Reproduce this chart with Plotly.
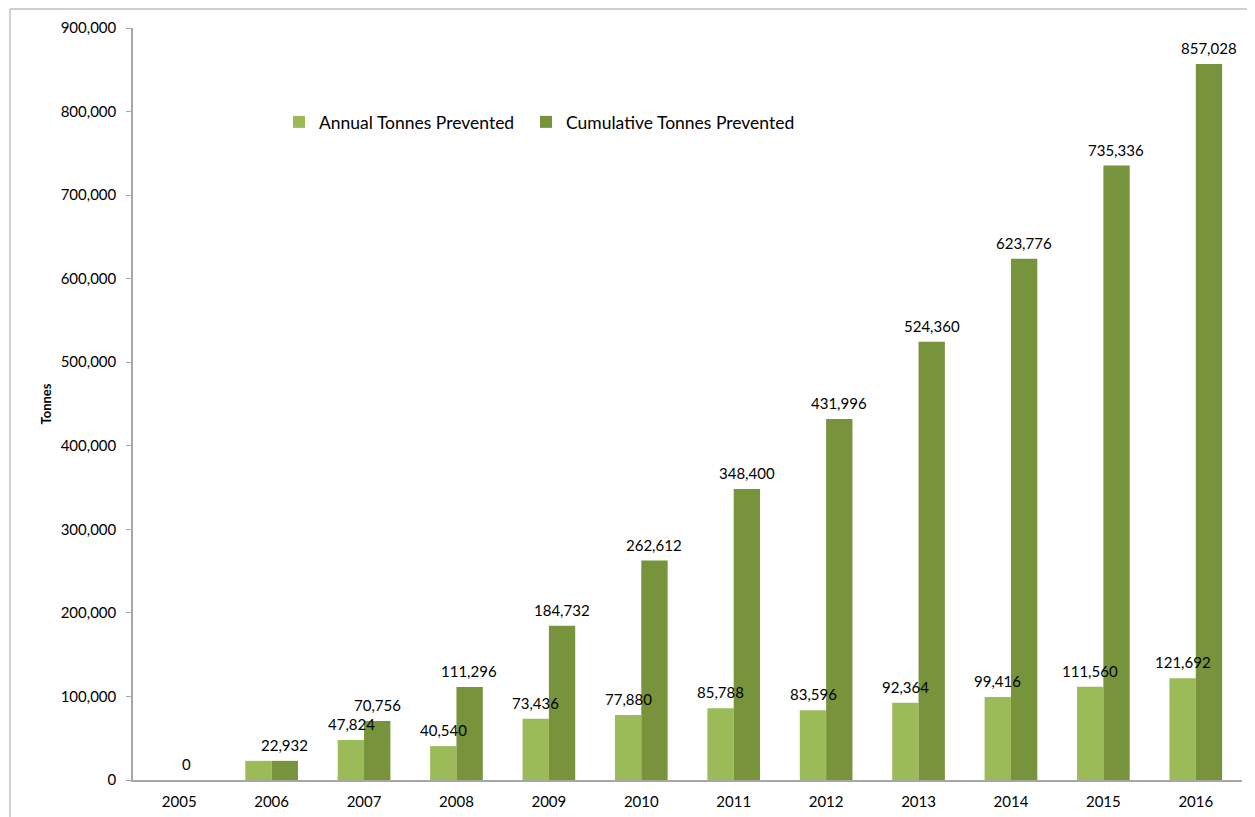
import plotly.graph_objects as go

years = ["2005", "2006", "2007", "2008", "2009", "2010", "2011", "2012", "2013", "2014", "2015", "2016"]
annual = [0, 22932, 47824, 40540, 73436, 77880, 85788, 83596, 92364, 99416, 111560, 121692]
cumulative = [0, 22932, 70756, 111296, 184732, 262612, 348400, 431996, 524360, 623776, 735336, 857028]
ytick_vals = [0, 100000, 200000, 300000, 400000, 500000, 600000, 700000, 800000, 900000]

FONT = "Lato, 'Open Sans', sans-serif"
C_ANNUAL = "#9BBB59"
C_CUM = "#77933C"

# page offset (browser body margin of 8px)
OFF = 8
W, H = 1255 - OFF, 817 - OFF
L, R, T, B = 133 - OFF, 13, 28 - OFF, 37
pw, ph = W - L - R, H - T - B


def px_x(x):
    return (x - OFF - L) / pw


def px_y(y):
    return (H - B - (y - OFF)) / ph


def font(size, weight=400):
    return dict(size=size, family=FONT, color="#000000", weight=weight)


fig = go.Figure()
fig.add_trace(go.Bar(
    x=years, y=annual, name="Annual Tonnes Prevented",
    marker=dict(color=C_ANNUAL, line=dict(width=0)), legend="legend",
))
fig.add_trace(go.Bar(
    x=years, y=cumulative, name="Cumulative Tonnes Prevented",
    marker=dict(color=C_CUM, line=dict(width=0)), legend="legend2",
))

BAR_OFFSET = 13
annotations = []
for i, (a, c) in enumerate(zip(annual, cumulative)):
    if a != c:
        annotations.append(dict(
            x=i, y=a, xref="x", yref="y", text=f"{a:,}", showarrow=False,
            xshift=-BAR_OFFSET, yshift=16, yanchor="middle", font=font(15),
        ))
    annotations.append(dict(
        x=i, y=c, xref="x", yref="y", text=f"{c:,}", showarrow=False,
        xshift=BAR_OFFSET if c else 7, yshift=16, yanchor="middle", font=font(15),
    ))

legend_common = dict(
    orientation="h", yanchor="middle", xanchor="left",
    font=font(17.5), bgcolor="rgba(0,0,0,0)",
)

fig.update_layout(
    width=W, height=H,
    margin=dict(l=L, r=R, t=T, b=B, autoexpand=False),
    paper_bgcolor="white", plot_bgcolor="white",
    barmode="group", bargap=0.43, bargroupgap=0,
    font=font(15),
    showlegend=True,
    legend=dict(x=px_x(279), y=px_y(122), **legend_common),
    legend2=dict(x=px_x(526), y=px_y(122), **legend_common),
    annotations=annotations,
    shapes=[
        dict(type="line", xref="paper", yref="paper",
             x0=px_x(10), x1=px_x(1270), y0=px_y(9), y1=px_y(9),
             line=dict(color="#BFBFBF", width=1.5)),
        dict(type="line", xref="paper", yref="paper",
             x0=px_x(10), x1=px_x(10), y0=px_y(9), y1=px_y(840),
             line=dict(color="#BFBFBF", width=1.5)),
    ],
)

fig.update_xaxes(
    type="category", range=[-0.5, len(years) - 0.5], automargin=False,
    showgrid=False, showline=True, linecolor="#A6A6A6", linewidth=1.5,
    ticks="", ticklabelstandoff=7, tickfont=font(15),
)
fig.update_yaxes(
    range=[0, 900000], tickvals=ytick_vals, tickformat=",", automargin=False,
    showgrid=False, zeroline=False, showline=True, linecolor="#A6A6A6", linewidth=1.5,
    ticks="outside", ticklen=5, tickcolor="#A6A6A6", ticklabelstandoff=7,
    tickfont=font(15),
    title=dict(text="Tonnes", font=font(13, 700), standoff=6),
)

fig.write_html("out.html")
